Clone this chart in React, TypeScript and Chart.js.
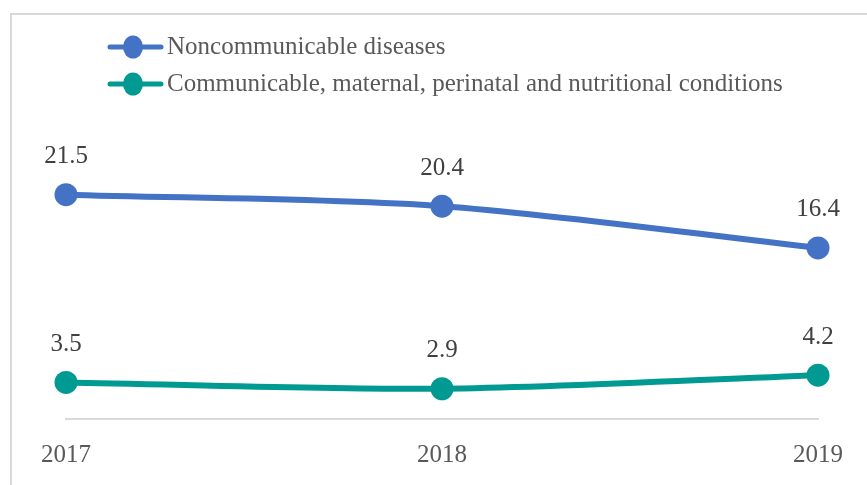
import React, { useEffect, useRef } from 'react';
import { Chart, registerables } from 'chart.js';

Chart.register(...registerables);

const years = ['2017', '2018', '2019'];
const ncdValues = [21.5, 20.4, 16.4];
const cmpnValues = [3.5, 2.9, 4.2];
const seriesNames = [
  'Noncommunicable diseases',
  'Communicable, maternal, perinatal and nutritional conditions',
];
const seriesColors = ['#4472c4', '#009a93'];

const FONT = "'Liberation Serif', 'Times New Roman', serif";

const framePlugin = {
  id: 'frame',
  beforeDraw(chart: any) {
    const ctx = chart.ctx;
    ctx.save();
    ctx.fillStyle = '#ffffff';
    ctx.fillRect(0, 0, chart.width, chart.height);
    ctx.strokeStyle = '#d9d9d9';
    ctx.lineWidth = 2;
    ctx.beginPath();
    ctx.moveTo(11, chart.height + 5);
    ctx.lineTo(11, 14);
    ctx.lineTo(chart.width + 5, 14);
    ctx.stroke();
    ctx.restore();
  },
};

const legendPlugin = {
  id: 'customLegend',
  afterDraw(chart: any) {
    const ctx = chart.ctx;
    const rows = [47, 84];
    chart.data.datasets.forEach((ds: any, i: number) => {
      const y = rows[i];
      ctx.save();
      ctx.strokeStyle = ds.borderColor;
      ctx.lineWidth = 5;
      ctx.lineCap = 'round';
      ctx.beginPath();
      ctx.moveTo(110, y);
      ctx.lineTo(161, y);
      ctx.stroke();
      ctx.fillStyle = ds.borderColor;
      ctx.beginPath();
      ctx.ellipse(133, y, 10, 11.5, 0, 0, Math.PI * 2);
      ctx.fill();
      ctx.fillStyle = '#595959';
      ctx.font = `25px ${FONT}`;
      ctx.textBaseline = 'middle';
      ctx.textAlign = 'left';
      ctx.fillText(ds.label, 167, y);
      ctx.restore();
    });
  },
};

const dataLabelPlugin = {
  id: 'dataLabels',
  afterDatasetsDraw(chart: any) {
    const ctx = chart.ctx;
    ctx.save();
    ctx.fillStyle = '#404040';
    ctx.font = `25px ${FONT}`;
    ctx.textAlign = 'center';
    ctx.textBaseline = 'middle';
    chart.data.datasets.forEach((ds: any, i: number) => {
      const meta = chart.getDatasetMeta(i);
      meta.data.forEach((pt: any, j: number) => {
        ctx.fillText(Number(ds.data[j]).toFixed(1), pt.x, pt.y - 38);
      });
    });
    ctx.restore();
  },
};

export default function App() {
  const canvasRef = useRef<HTMLCanvasElement | null>(null);

  useEffect(() => {
    if (!canvasRef.current) return;
    const makeDs = (label: string, data: number[], color: string) => ({
      label,
      data,
      borderColor: color,
      backgroundColor: color,
      borderWidth: 6,
      pointRadius: 11.5,
      pointHoverRadius: 11.5,
      pointBackgroundColor: color,
      pointBorderColor: color,
      pointBorderWidth: 0,
      tension: 0.3,
      fill: false,
      clip: false as any,
    });
    const chart = new Chart(canvasRef.current, {
      type: 'line',
      data: {
        labels: years,
        datasets: [
          makeDs(seriesNames[0], ncdValues, seriesColors[0]),
          makeDs(seriesNames[1], cmpnValues, seriesColors[1]),
        ],
      },
      options: {
        responsive: false,
        animation: false,
        devicePixelRatio: 1,
        layout: { padding: { left: 66, right: 49, top: 106, bottom: 0 } },
        plugins: {
          legend: { display: false },
          tooltip: { enabled: false },
        },
        scales: {
          x: {
            offset: false,
            grid: { display: false, drawTicks: false },
            border: { display: true, color: '#d9d9d9', width: 2 },
            ticks: {
              color: '#595959',
              font: { family: FONT, size: 25 },
              padding: 21,
              maxRotation: 0,
            },
            afterFit: (scale: any) => {
              scale.height = 66;
            },
          },
          y: { display: false, min: 0, max: 30 },
        },
      },
      plugins: [framePlugin, dataLabelPlugin, legendPlugin],
    });
    return () => chart.destroy();
  }, []);

  return (
    <div style={{ position: 'fixed', left: 0, top: 0, width: 867, height: 485, background: '#fff' }}>
      <canvas ref={canvasRef} width={867} height={485} style={{ display: 'block' }} />
    </div>
  );
}
